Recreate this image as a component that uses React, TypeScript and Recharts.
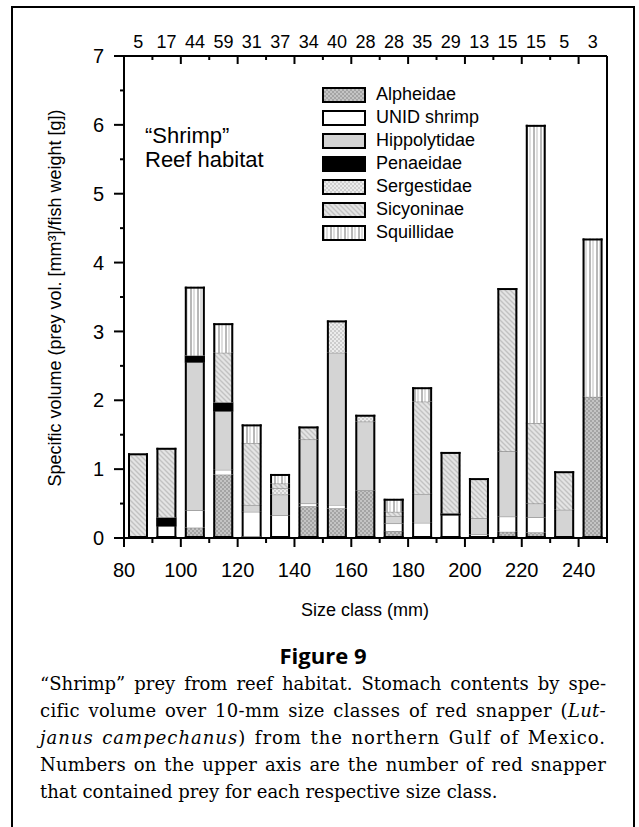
import React from "react";
import { BarChart, Bar, XAxis, YAxis, ReferenceLine } from "recharts";

// size classes (mid-points, mm) and fish counts on the upper axis
const sizeClasses = [85, 95, 105, 115, 125, 135, 145, 155, 165, 175, 185, 195, 205, 215, 225, 235, 245];
const fishCounts = [5, 17, 44, 59, 31, 37, 34, 40, 28, 28, 35, 29, 13, 15, 15, 5, 3];

// specific volume per prey taxon, stacked bottom -> top
const alpheidae = [0, 0, 0.15, 0.92, 0.02, 0, 0.46, 0.43, 0.69, 0.1, 0, 0, 0, 0.09, 0.08, 0, 2.05];
const unidShrimp = [0, 0.17, 0.25, 0.07, 0.36, 0.33, 0.04, 0.05, 0, 0.11, 0.22, 0.33, 0.05, 0.22, 0.22, 0, 0];
const hippolytidae = [0, 0, 2.15, 0.85, 0.1, 0.3, 0.93, 2.21, 1.0, 0.11, 0.42, 0, 0.24, 0.95, 0.2, 0.41, 0];
const penaeidae = [0, 0.13, 0.1, 0.13, 0, 0, 0, 0, 0, 0, 0, 0.03, 0, 0, 0, 0, 0];
const sergestidae = [0, 0, 0, 0, 0, 0.09, 0, 0.47, 0.1, 0, 0, 0, 0, 0, 0, 0, 0];
const sicyoninae = [1.23, 1.01, 0, 0.72, 0.9, 0.07, 0.19, 0, 0, 0.06, 1.34, 0.89, 0.58, 2.37, 1.17, 0.56, 0];
const squillidae = [0, 0, 1.0, 0.43, 0.27, 0.14, 0, 0, 0, 0.19, 0.21, 0, 0, 0, 4.33, 0, 2.3];

const xTicks = [80, 90, 100, 110, 120, 130, 140, 150, 160, 170, 180, 190, 200, 210, 220, 230, 240, 250];
const yTicks = [0, 0.5, 1, 1.5, 2, 2.5, 3, 3.5, 4, 4.5, 5, 5.5, 6, 6.5, 7];

const SERIES = [
  { key: "alpheidae", name: "Alpheidae", fill: "url(#pAlph)" },
  { key: "unid", name: "UNID shrimp", fill: "#ffffff" },
  { key: "hippolytidae", name: "Hippolytidae", fill: "#d4d4d4" },
  { key: "penaeidae", name: "Penaeidae", fill: "#000000" },
  { key: "sergestidae", name: "Sergestidae", fill: "url(#pSerg)" },
  { key: "sicyoninae", name: "Sicyoninae", fill: "url(#pSicy)" },
  { key: "squillidae", name: "Squillidae", fill: "url(#pSquil)" },
];

const data = sizeClasses.map((x, i) => ({
  x,
  alpheidae: alpheidae[i],
  unid: unidShrimp[i],
  hippolytidae: hippolytidae[i],
  penaeidae: penaeidae[i],
  sergestidae: sergestidae[i],
  sicyoninae: sicyoninae[i],
  squillidae: squillidae[i],
}));

const SANS = "'Liberation Sans', Arial, Helvetica, sans-serif";

function Segment(props: any) {
  const { x, y, width, height, fill, payload, idx } = props;
  if (!payload || !height || height <= 0) return null;
  const topmost = SERIES.slice(idx + 1).every((s) => !payload[s.key]);
  const bottom = idx === 0 || SERIES.slice(0, idx).every((s) => !payload[s.key]);
  return (
    <g>
      <rect x={x} y={y} width={width} height={height} fill={fill} />
      {!topmost && <line x1={x} x2={x + width} y1={y} y2={y} stroke="#777" strokeWidth={1} />}
      {topmost && <line x1={x} x2={x + width} y1={y + 1} y2={y + 1} stroke="#000" strokeWidth={2} />}
      {bottom && <line x1={x} x2={x + width} y1={y + height - 1} y2={y + height - 1} stroke="#000" strokeWidth={2} />}
      <line x1={x + 1} x2={x + 1} y1={y} y2={y + height} stroke="#000" strokeWidth={2} />
      <line x1={x + width - 1} x2={x + width - 1} y1={y} y2={y + height} stroke="#000" strokeWidth={2} />
    </g>
  );
}

function BottomTick(props: any) {
  const { x, y, payload } = props;
  const v = payload.value;
  const major = v % 20 === 0;
  return (
    <g>
      <line x1={x} x2={x} y1={y} y2={y + (major ? 9 : 5)} stroke="#000" strokeWidth={2} />
      {major && v <= 240 && (
        <text x={x} y={y + 39} textAnchor="middle" fontSize={20} fontFamily={SANS} fill="#000">
          {v}
        </text>
      )}
    </g>
  );
}

function TopTick(props: any) {
  const { x, y, payload } = props;
  const v = payload.value;
  if (v % 10 === 0) {
    const major = v % 20 === 0;
    return <line x1={x} x2={x} y1={y} y2={y + (major ? 8 : 4)} stroke="#000" strokeWidth={2} />;
  }
  const i = sizeClasses.indexOf(v);
  return (
    <text x={x} y={y - 8} textAnchor="middle" fontSize={18} fontFamily={SANS} fill="#000">
      {fishCounts[i]}
    </text>
  );
}

function LeftTick(props: any) {
  const { x, y, payload } = props;
  const v = payload.value;
  const major = Number.isInteger(v);
  return (
    <g>
      <line x1={x} x2={x - (major ? 10 : 4)} y1={y} y2={y} stroke="#000" strokeWidth={2} />
      {major && (
        <text x={x - 20} y={y} dy="0.36em" textAnchor="end" fontSize={20} fontFamily={SANS} fill="#000">
          {v}
        </text>
      )}
    </g>
  );
}

function LegendBox() {
  return (
    <div style={{ fontFamily: SANS, fontSize: 18, lineHeight: "23px" }}>
      {SERIES.map((s) => (
        <div key={s.key} style={{ display: "flex", alignItems: "center", height: 23 }}>
          <svg width={44} height={16} style={{ marginRight: 10 }}>
            <rect x={1} y={1} width={42} height={14} fill={s.fill} stroke="#000" strokeWidth={2} />
          </svg>
          <span>{s.name}</span>
        </div>
      ))}
    </div>
  );
}

const topTicks = [...xTicks, ...sizeClasses].sort((a, b) => a - b);

const justify = { textAlign: "justify" as const, textAlignLast: "justify" as const, whiteSpace: "nowrap" as const };

export default function App() {
  return (
    <div style={{ position: "absolute", left: 0, top: 0, width: 639, height: 827, background: "#fff" }}>
      <svg width={0} height={0} style={{ position: "absolute" }}>
        <defs>
          <pattern id="pAlph" width={4} height={4} patternUnits="userSpaceOnUse">
            <rect width={4} height={4} fill="#a4a4a4" />
            <rect width={2} height={2} fill="#c4c4c4" />
            <rect x={2} y={2} width={2} height={2} fill="#c4c4c4" />
          </pattern>
          <pattern id="pSerg" width={4} height={4} patternUnits="userSpaceOnUse">
            <rect width={4} height={4} fill="#ececec" />
            <rect width={2} height={2} fill="#cdcdcd" />
            <rect x={2} y={2} width={2} height={2} fill="#cdcdcd" />
          </pattern>
          <pattern id="pSicy" width={5} height={5} patternUnits="userSpaceOnUse">
            <rect width={5} height={5} fill="#e4e4e4" />
            <path d="M-1,-1 L6,6 M-1,4 L1,6 M4,-1 L6,1" stroke="#c2c2c2" strokeWidth={1.4} />
          </pattern>
          <pattern id="pSquil" width={7} height={7} patternUnits="userSpaceOnUse">
            <rect width={7} height={7} fill="#ffffff" />
            <rect x={1} width={2} height={7} fill="#b8b8b8" />
            <rect x={4} width={2} height={7} fill="#dedede" />
          </pattern>
        </defs>
      </svg>

      {/* figure frame */}
      <div
        style={{
          position: "absolute",
          left: 11,
          top: 6,
          width: 620,
          height: 840,
          border: "2px solid #000",
        }}
      />

      <BarChart
        width={639}
        height={600}
        data={data}
        margin={{ top: 26, right: 32, bottom: 32, left: 14 }}
        barSize={20}
        style={{ position: "absolute", left: 0, top: 0 }}
      >
        <XAxis
          xAxisId="bottom"
          dataKey="x"
          type="number"
          domain={[80, 250]}
          ticks={xTicks}
          interval={0}
          height={30}
          tickSize={0}
          tickMargin={0}
          tickLine={false}
          axisLine={{ stroke: "#000", strokeWidth: 2 }}
          tick={<BottomTick />}
        />
        <XAxis
          xAxisId="top"
          orientation="top"
          dataKey="x"
          type="number"
          domain={[80, 250]}
          ticks={topTicks}
          interval={0}
          height={30}
          tickSize={0}
          tickMargin={0}
          tickLine={false}
          axisLine={{ stroke: "#000", strokeWidth: 2 }}
          tick={<TopTick />}
        />
        <YAxis
          type="number"
          domain={[0, 7]}
          ticks={yTicks}
          interval={0}
          width={110}
          tickSize={0}
          tickMargin={0}
          tickLine={false}
          axisLine={{ stroke: "#000", strokeWidth: 2 }}
          tick={<LeftTick />}
        />
        <ReferenceLine xAxisId="bottom" x={250} stroke="#000" strokeWidth={2} />
        {SERIES.map((s, idx) => (
          <Bar
            key={s.key}
            xAxisId="bottom"
            dataKey={s.key}
            name={s.name}
            stackId="a"
            fill={s.fill}
            isAnimationActive={false}
            shape={(p: any) => <Segment {...p} idx={idx} />}
          />
        ))}
      </BarChart>

      {/* legend */}
      <div style={{ position: "absolute", left: 322, top: 83 }}>
        <LegendBox />
      </div>

      {/* in-plot title */}
      <div
        style={{
          position: "absolute",
          left: 145,
          top: 124,
          fontFamily: SANS,
          fontSize: 22,
          lineHeight: "24px",
        }}
      >
        “Shrimp”
        <br />
        Reef habitat
      </div>

      {/* y axis title */}
      <div
        style={{
          position: "absolute",
          left: 55 - 250,
          top: 298 - 11,
          width: 500,
          height: 22,
          lineHeight: "22px",
          textAlign: "center",
          transform: "rotate(-90deg)",
          fontFamily: SANS,
          fontSize: 18,
        }}
      >
        Specific volume (prey vol. [mm³]/fish weight [g])
      </div>

      {/* x axis title */}
      <div
        style={{
          position: "absolute",
          left: 165,
          width: 400,
          top: 599,
          textAlign: "center",
          fontFamily: SANS,
          fontSize: 18,
          lineHeight: "22px",
        }}
      >
        Size class (mm)
      </div>

      <div
        style={{
          position: "absolute",
          left: 12,
          width: 622,
          top: 641,
          textAlign: "center",
          fontFamily: "'Open Sans', sans-serif",
          fontWeight: 700,
          fontSize: 22,
          lineHeight: "28px",
        }}
      >
        Figure 9
      </div>

      <div
        style={{
          position: "absolute",
          left: 40,
          width: 566,
          top: 670,
          fontFamily: "'DejaVu Serif', serif",
          fontSize: 18,
          lineHeight: "27px",
          color: "#000",
        }}
      >
        <div style={justify}>“Shrimp” prey from reef habitat. Stomach contents by spe-</div>
        <div style={{ ...justify, letterSpacing: 0.3 }}>
          cific volume over 10-mm size classes of red snapper (<i>Lut-</i>
        </div>
        <div style={{ ...justify, letterSpacing: 1 }}>
          <i>janus campechanus</i>) from the northern Gulf of Mexico.
        </div>
        <div style={{ ...justify, letterSpacing: 0.2 }}>
          Numbers on the upper axis are the number of red snapper
        </div>
        <div>that contained prey for each respective size class.</div>
      </div>
    </div>
  );
}
